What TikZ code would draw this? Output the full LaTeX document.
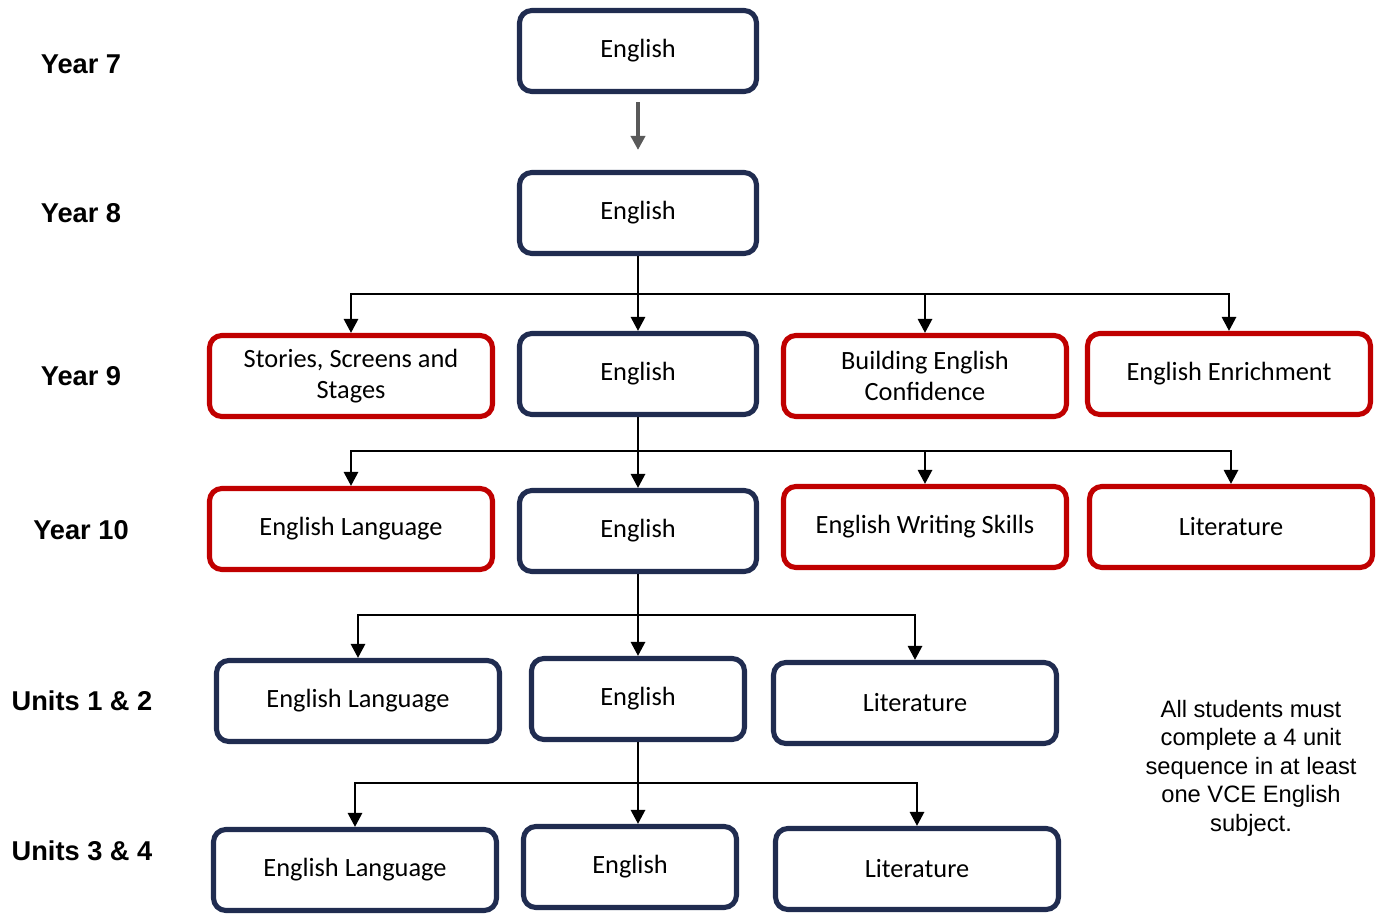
\documentclass[tikz,border=0pt]{standalone}
\usepackage{fontspec}
\setmainfont{Carlito}
\newfontfamily\arialfont{Liberation Sans}
\usetikzlibrary{arrows.meta}

\definecolor{navy}{RGB}{32,44,80}
\definecolor{darkred}{RGB}{192,0,0}
\definecolor{arrowgray}{RGB}{89,89,89}

\tikzset{
  core/.style={draw=navy, line width=2.9pt, rounded corners=7pt, fill=white,
    minimum width=4.74cm, minimum height=1.62cm, align=center,
    font=\fontsize{15}{18}\selectfont},
  elective/.style={core, draw=darkred, minimum width=5.66cm},
  vce/.style={core, minimum width=5.66cm},
  unitcore/.style={core, minimum width=4.26cm},
  yearlabel/.style={font=\arialfont\bfseries\fontsize{15.5}{18}\selectfont},
  note/.style={align=center, font=\arialfont\fontsize{13.5}{16.2}\selectfont},
  conn/.style={line width=1.6pt},
  arr/.style={conn, -{Triangle[width=8pt,length=8pt]}},
  grayarr/.style={draw=arrowgray, line width=2pt, -{Triangle[width=8pt,length=8pt]}}
}

\begin{document}
\begin{tikzpicture}[x=0.02cm, y=-0.02cm]
\useasboundingbox (0,0) rectangle (1386,913);

% Year labels down the left
\node[yearlabel] (y7) at (81,64) {Year 7};
\node[yearlabel] (y8) at (81,213) {Year 8};
\node[yearlabel] (y9) at (81,376) {Year 9};
\node[yearlabel] (y10) at (81,530) {Year 10};
\node[yearlabel] (u12) at (82,701) {Units 1 \& 2};
\node[yearlabel] (u34) at (82,851) {Units 3 \& 4};

% Year 7 and 8
\node[core] (e7) at (638,51) {English};
\node[core] (e8) at (638,213) {English};

% Year 9
\node[elective] (s9) at (351,376) {Stories, Screens and\\Stages};
\node[core] (e9) at (638,374) {English};
\node[elective] (b9) at (925,376) {Building English\\Confidence};
\node[elective] (r9) at (1229,374) {English Enrichment};

% Year 10
\node[elective] (l10) at (351,529) {English Language};
\node[core] (e10) at (638,531) {English};
\node[elective] (w10) at (925,527) {English Writing Skills};
\node[elective] (t10) at (1231,527) {Literature};

% Units 1 & 2
\node[vce] (l12) at (358,701) {English Language};
\node[unitcore] (e12) at (638,699) {English};
\node[vce] (t12) at (915,703) {Literature};

% Units 3 & 4
\node[vce] (l34) at (355,870) {English Language};
\node[unitcore] (e34) at (630,867) {English};
\node[vce] (t34) at (917,869) {Literature};

\node[note] (msg) at (1251,768) {All students must\\complete a 4 unit\\sequence in at least\\one VCE English\\subject.};

% Connectors
\draw[grayarr, shorten <=0.16cm, shorten >=0.4cm] (e7) -- (e8);

\coordinate (j8) at (638,294);
\draw[conn] (e8) -- (j8);
\draw[arr] (j8) -| (s9);
\draw[arr] (j8) -- (e9);
\draw[arr] (j8) -| (b9);
\draw[arr] (j8) -| (r9);

\coordinate (j9) at (638,451);
\draw[conn] (e9) -- (j9);
\draw[arr] (j9) -| (l10);
\draw[arr] (j9) -- (e10);
\draw[arr] (j9) -| (w10);
\draw[arr] (j9) -| (t10);

\coordinate (j10) at (638,615);
\draw[conn] (e10) -- (j10);
\draw[arr] (j10) -| (l12);
\draw[arr] (j10) -- (e12);
\draw[arr] (j10) -| (t12);

\coordinate (j12) at (638,783);
\draw[conn] (e12) -- (j12);
\draw[arr] (j12) -| (l34);
\draw[arr] (j12) -- (j12 |- e34.north);
\draw[arr] (j12) -| (t34);
\end{tikzpicture}
\end{document}
